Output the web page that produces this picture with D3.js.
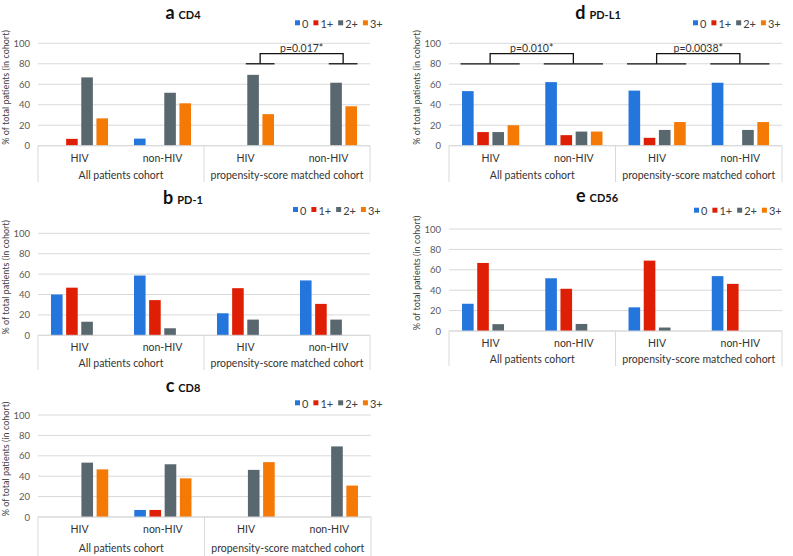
<!DOCTYPE html>
<html>
<head>
<meta charset="utf-8">
<script src="https://cdn.jsdelivr.net/npm/d3@7"></script>
<style>
  html, body { margin: 0; padding: 0; background: #ffffff; }
  svg { display: block; font-family: Lato, "Open Sans", sans-serif; }
</style>
</head>
<body>
<svg id="chart" width="793" height="556"></svg>
<script>
// ---------- data ----------
const categories = ["HIV", "non-HIV", "HIV", "non-HIV"];
const cohorts = ["All patients cohort", "propensity-score matched cohort"];
const seriesNames = ["0", "1+", "2+", "3+"];
const seriesColors = ["#2476dd", "#df1f05", "#59676e", "#f57a05"];
const yTicks = [0, 20, 40, 60, 80, 100];

// values per category (rows) for series 0, 1+, 2+, 3+
const cd4Values  = [[0, 6.7, 66.7, 26.7], [6.9, 0, 51.7, 41.4], [0, 0, 69.2, 30.8], [0, 0, 61.5, 38.5]];
const pd1Values  = [[40.0, 46.7, 13.3, 0], [58.6, 34.5, 6.9, 0], [21.6, 46.2, 15.4, 0], [53.8, 30.8, 15.4, 0]];
const cd8Values  = [[0, 0, 53.3, 46.7], [6.9, 6.9, 51.7, 37.9], [0, 0, 46.2, 53.8], [0, 0, 69.2, 30.8]];
const pdl1Values = [[53.3, 13.3, 13.3, 20.0], [62.1, 10.3, 13.8, 13.8], [53.8, 7.7, 15.4, 23.1], [61.5, 0, 15.4, 23.1]];
const cd56Values = [[26.7, 66.7, 6.7, 0], [51.7, 41.4, 6.9, 0], [23.2, 69.0, 3.4, 0], [53.8, 46.2, 0, 0]];

// significance brackets: category pair, series span, label
const cd4Brackets  = [{ cats: [2, 3], span: [2, 3], label: "p=0.017*" }];
const pdl1Brackets = [{ cats: [0, 1], span: [0, 3], label: "p=0.010*" },
                      { cats: [2, 3], span: [0, 3], label: "p=0.0038*" }];
const bracketBase = 80, bracketTop = 90, bracketText = 95.5;

// ---------- layout ----------
const panels = [
  { letter: "a", name: "CD4",   values: cd4Values,  brackets: cd4Brackets,
    L: { left: 38,  right: 370, top: 43.3,  bottom: 145.7, titleX: 183, titleY: 18.5,  legendX: 295, legendY: 23.3,  yTitleX: 5,   labelY: 158.3, cohortY: 175,   boxBottom: 182 } },
  { letter: "b", name: "PD-1",  values: pd1Values,  brackets: [],
    L: { left: 38,  right: 370, top: 233.3, bottom: 335.3, titleX: 183, titleY: 204.3, legendX: 293, legendY: 210,   yTitleX: 5,   labelY: 346.7, cohortY: 363,   boxBottom: 370 } },
  { letter: "c", name: "CD8",   values: cd8Values,  brackets: [],
    L: { left: 38,  right: 371, top: 415,   bottom: 517,   titleX: 183, titleY: 391.7, legendX: 295, legendY: 403.3, yTitleX: 5,   labelY: 529,   cohortY: 547.7, boxBottom: 556 } },
  { letter: "d", name: "PD-L1", values: pdl1Values, brackets: pdl1Brackets,
    L: { left: 449, right: 782, top: 43.3,  bottom: 145.7, titleX: 598, titleY: 18.5,  legendX: 693, legendY: 23.3,  yTitleX: 416, labelY: 158.3, cohortY: 175,   boxBottom: 182 } },
  { letter: "e", name: "CD56",  values: cd56Values, brackets: [],
    L: { left: 449, right: 782, top: 229,   bottom: 331,   titleX: 597, titleY: 202.3, legendX: 694, legendY: 210.7, yTitleX: 416, labelY: 342.7, cohortY: 359,   boxBottom: 366 } }
];

const svg = d3.select("#chart");
const gridColor = "#d9d9d9";

panels.forEach(p => {
  const L = p.L;
  const g = svg.append("g");

  const y = d3.scaleLinear().domain([0, 100]).range([L.bottom, L.top]);
  const x = d3.scaleBand().domain(d3.range(categories.length)).range([L.left, L.right]).padding(0);
  const bw = x.bandwidth();
  const groupW = bw * 0.687;
  const xs = d3.scaleBand().domain(d3.range(seriesNames.length))
    .range([(bw - groupW) / 2, (bw + groupW) / 2]).paddingInner(0.235).paddingOuter(0);

  // gridlines
  g.append("g").selectAll("line").data(yTicks).join("line")
    .attr("x1", L.left).attr("x2", L.right)
    .attr("y1", d => y(d)).attr("y2", d => y(d))
    .attr("stroke", gridColor).attr("stroke-width", 1);

  // y axis labels
  const yAxis = d3.axisLeft(y).tickValues(yTicks).tickSize(0).tickPadding(8);
  const ya = g.append("g").attr("transform", `translate(${L.left},0)`).call(yAxis);
  ya.select(".domain").remove();
  ya.selectAll("text").attr("font-size", 9.5).attr("fill", "#595959")
    .attr("font-family", "Lato, 'Open Sans', sans-serif");

  // y axis title
  g.append("text")
    .attr("transform", `translate(${L.yTitleX},${(L.top + L.bottom) / 2 - 7}) rotate(-90)`)
    .attr("text-anchor", "middle").attr("dominant-baseline", "central")
    .attr("font-size", 9).attr("fill", "#404040")
    .text("% of total patients (in cohort)");

  // bars
  p.values.forEach((row, ci) => {
    g.append("g").selectAll("rect").data(row).join("rect")
      .attr("x", (d, si) => x(ci) + xs(si))
      .attr("width", xs.bandwidth())
      .attr("y", d => y(d))
      .attr("height", d => y(0) - y(d))
      .attr("fill", (d, si) => seriesColors[si]);
  });

  // category box (multi-level axis)
  const boxG = g.append("g").attr("stroke", gridColor).attr("stroke-width", 1);
  boxG.append("line").attr("x1", L.left).attr("x2", L.right).attr("y1", L.bottom).attr("y2", L.bottom);
  [L.left, x(2), L.right].forEach(xx => {
    boxG.append("line").attr("x1", xx).attr("x2", xx).attr("y1", L.bottom).attr("y2", L.boxBottom);
  });

  g.append("g").selectAll("text").data(categories).join("text")
    .attr("x", (d, i) => x(i) + bw / 2).attr("y", L.labelY)
    .attr("text-anchor", "middle").attr("dominant-baseline", "central")
    .attr("font-size", 10.5).attr("fill", "#333333").text(d => d);

  g.append("g").selectAll("text").data(cohorts).join("text")
    .attr("x", (d, i) => (x(i * 2) + x(i * 2 + 1) + bw) / 2).attr("y", L.cohortY)
    .attr("text-anchor", "middle").attr("dominant-baseline", "central")
    .attr("font-size", 10.5).attr("fill", "#333333").text(d => d);

  // title
  const t = g.append("text").attr("x", L.titleX).attr("y", L.titleY)
    .attr("text-anchor", "middle").attr("font-weight", "bold").attr("fill", "#111111");
  t.append("tspan").attr("font-size", 18).text(p.letter);
  t.append("tspan").attr("font-size", 11).attr("dx", 4).text(p.name);

  // legend
  let lx = L.legendX;
  seriesNames.forEach((s, si) => {
    g.append("rect").attr("x", lx).attr("y", L.legendY - 3).attr("width", 5).attr("height", 5)
      .attr("fill", seriesColors[si]);
    const tx = g.append("text").attr("x", lx + 7).attr("y", L.legendY)
      .attr("dominant-baseline", "central").attr("font-size", 11).attr("fill", "#404040").text(s);
    lx = lx + 7 + tx.node().getComputedTextLength() + 5;
  });

  // brackets
  p.brackets.forEach(b => {
    const bg = g.append("g").attr("stroke", "#111111").attr("stroke-width", 1.3).attr("fill", "none");
    const mids = b.cats.map(ci => {
      const x0 = x(ci) + xs(b.span[0]) - 1.5;
      const x1 = x(ci) + xs(b.span[1]) + xs.bandwidth() + 0.5;
      bg.append("line").attr("x1", x0).attr("x2", x1).attr("y1", y(bracketBase)).attr("y2", y(bracketBase));
      return (x0 + x1) / 2;
    });
    bg.append("path").attr("d",
      `M${mids[0]},${y(bracketBase)} V${y(bracketTop)} H${mids[1]} V${y(bracketBase)}`);
    g.append("text").attr("x", (mids[0] + mids[1]) / 2).attr("y", y(bracketText))
      .attr("text-anchor", "middle").attr("dominant-baseline", "central")
      .attr("font-size", 10.5).attr("fill", "#333333").text(b.label);
  });
});
</script>
</body>
</html>
